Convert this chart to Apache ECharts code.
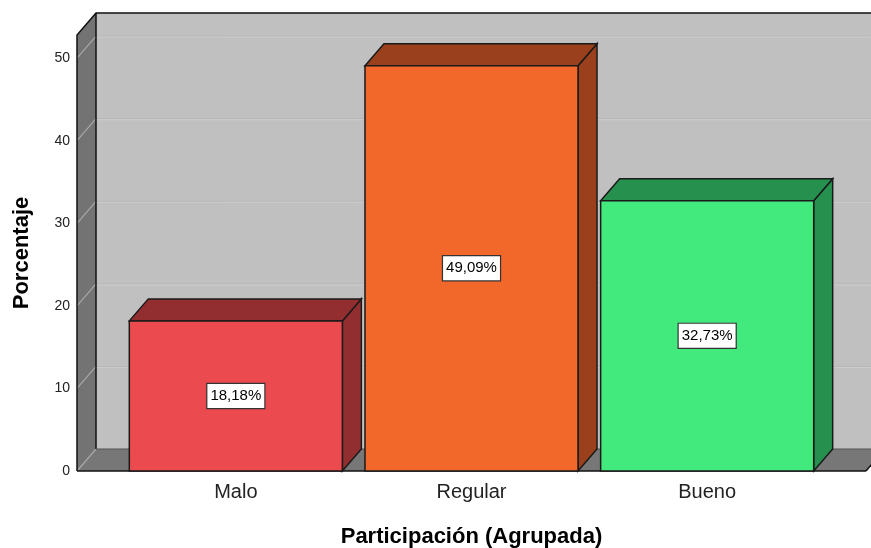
<!DOCTYPE html>
<html><head><meta charset="utf-8">
<script src="https://cdn.jsdelivr.net/npm/echarts@6/dist/echarts.min.js"></script>
<style>html,body{margin:0;padding:0;background:#fff}#c{width:871px;height:548px}</style>
</head><body><div id="c"></div>
<script>
const categories = ['Malo', 'Regular', 'Bueno'];
const values = [18.18, 49.09, 32.73];
const valueLabels = ['18,18%', '49,09%', '32,73%'];
const yTicks = [0, 10, 20, 30, 40, 50];
const xTitle = 'Participación (Agrupada)';
const yTitle = 'Porcentaje';

const frontColors = ['#eb4b4f', '#f2682b', '#42e97c'];
const sideColors = ['#922e30', '#9a401c', '#26914e'];
const DX = 19, DY = -22;
const YMAX = 52.8;
const FONT = 'Liberation Sans, Arial, sans-serif';

const chart = echarts.init(document.getElementById('c'), null, {renderer: 'canvas'});

function wallsRender(params, api) {
  const p0 = api.coord([0, 0]);
  const pT = api.coord([0, YMAX]);
  const pR = api.coord([1, 0]);
  const x0 = p0[0], y0 = p0[1], yT = pT[1], xR = pR[0];
  const ch = [];
  ch.push({type: 'rect', shape: {x: x0 + DX, y: yT + DY, width: xR - x0 + 30, height: y0 - yT}, style: {fill: '#c0c0c0'}});
  ch.push({type: 'polygon', shape: {points: [[x0, y0], [x0, yT], [x0 + DX, yT + DY], [x0 + DX, y0 + DY]]}, style: {fill: '#737373'}});
  ch.push({type: 'polygon', shape: {points: [[x0, y0], [x0 + DX, y0 + DY], [xR + DX, y0 + DY], [xR, y0]]}, style: {fill: '#777777'}});
  yTicks.forEach(t => {
    const y = api.coord([0, t])[1];
    if (t > 0) {
      ch.push({type: 'line', shape: {x1: x0 + DX, y1: y + DY, x2: xR + DX + 30, y2: y + DY}, style: {stroke: '#b6b6b6', lineWidth: 1}});
      ch.push({type: 'line', shape: {x1: x0 + DX, y1: y + DY + 1, x2: xR + DX + 30, y2: y + DY + 1}, style: {stroke: '#cdcdcd', lineWidth: 1}});
    }
    ch.push({type: 'line', shape: {x1: x0, y1: y, x2: x0 + DX, y2: y + DY}, style: {stroke: '#a8a8a8', lineWidth: 1.2}});
  });
  const blk = {stroke: '#111', lineWidth: 1.5, fill: null};
  ch.push({type: 'polyline', shape: {points: [[x0, y0], [x0, yT], [x0 + DX, yT + DY], [xR + DX + 30, yT + DY]]}, style: blk});
  ch.push({type: 'line', shape: {x1: x0 + DX, y1: yT + DY, x2: x0 + DX, y2: y0 + DY}, style: blk});
  ch.push({type: 'line', shape: {x1: x0, y1: y0, x2: xR, y2: y0}, style: blk});
  ch.push({type: 'line', shape: {x1: xR, y1: y0, x2: xR + DX, y2: y0 + DY}, style: blk});
  ch.push({type: 'line', shape: {x1: x0 + DX, y1: y0 + DY, x2: xR + DX, y2: y0 + DY}, style: {stroke: '#555', lineWidth: 1}});
  return {type: 'group', children: ch};
}

function barsRender(params, api) {
  const i = api.value(0);
  const v = api.value(1);
  const c = api.coord([i, v]);
  const b = api.coord([i, 0]);
  const bw = api.size([1, 0])[0] * 0.904;
  const x0 = c[0] - bw / 2, x1 = c[0] + bw / 2, yv = c[1], yb = b[1];
  const edge = {stroke: '#1a1a1a', lineWidth: 1.5};
  return {type: 'group', children: [
    {type: 'polygon', shape: {points: [[x1, yv], [x1 + DX, yv + DY], [x1 + DX, yb + DY], [x1, yb]]},
      style: Object.assign({fill: sideColors[i]}, edge)},
    {type: 'polygon', shape: {points: [[x0, yv], [x0 + DX, yv + DY], [x1 + DX, yv + DY], [x1, yv]]},
      style: Object.assign({fill: sideColors[i]}, edge)},
    {type: 'rect', shape: {x: x0, y: yv, width: bw, height: yb - yv},
      style: Object.assign({fill: frontColors[i]}, edge)},
    {type: 'text', style: {text: valueLabels[i], x: c[0], y: (yv + yb) / 2, align: 'center', verticalAlign: 'middle',
      fill: '#000', fontSize: 15, fontFamily: FONT, backgroundColor: '#fff', borderColor: '#333', borderWidth: 1.2, padding: [5, 3, 4, 3]}}
  ]};
}

chart.setOption({
  animation: false,
  backgroundColor: '#fff',
  grid: [
    {left: 77, right: 5, top: 35, bottom: 77, containLabel: false, outerBoundsMode: 'none'},
    {left: 118, right: 46, top: 35, bottom: 77, containLabel: false, outerBoundsMode: 'none'}
  ],
  xAxis: [
    {gridIndex: 0, type: 'value', min: 0, max: 1, show: false},
    {gridIndex: 1, type: 'category', data: categories,
      axisLine: {show: false}, axisTick: {show: false},
      axisLabel: {fontSize: 20, color: '#222', margin: 11, fontFamily: FONT},
      name: xTitle, nameLocation: 'middle', nameGap: 55,
      nameTextStyle: {fontSize: 22, fontWeight: 'bold', color: '#000', fontFamily: FONT}}
  ],
  yAxis: [
    {gridIndex: 0, type: 'value', min: 0, max: YMAX, interval: 10,
      axisLine: {show: false}, axisTick: {show: false}, splitLine: {show: false},
      axisLabel: {fontSize: 14, color: '#222', margin: 7, fontFamily: FONT,
        formatter: v => (yTicks.indexOf(v) >= 0 ? String(v) : '')},
      name: yTitle, nameLocation: 'middle', nameGap: 44, nameRotate: 90,
      nameTextStyle: {fontSize: 22, fontWeight: 'bold', color: '#000', fontFamily: FONT}},
    {gridIndex: 1, type: 'value', min: 0, max: YMAX, show: false}
  ],
  series: [
    {type: 'custom', xAxisIndex: 0, yAxisIndex: 0, data: [[0, 0]], renderItem: wallsRender, z: 1, silent: true},
    {type: 'custom', xAxisIndex: 1, yAxisIndex: 1, data: values.map((v, i) => [i, v]), renderItem: barsRender, z: 2, silent: true}
  ]
});
</script>
</body></html>
